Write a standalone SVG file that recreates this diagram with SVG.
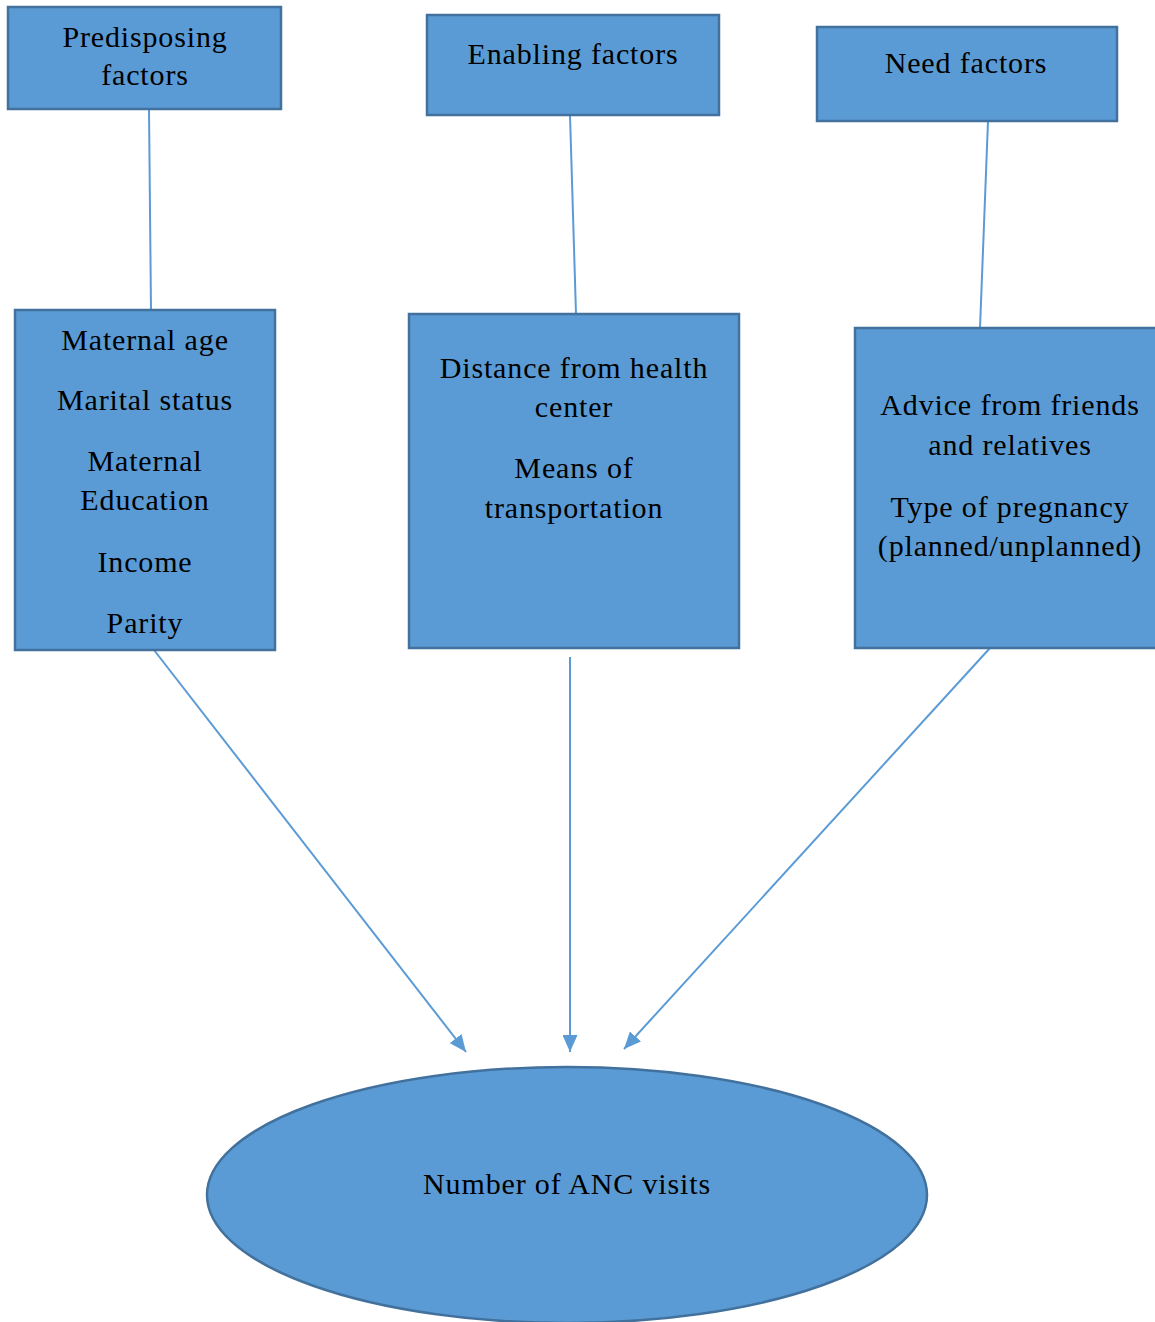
<svg xmlns="http://www.w3.org/2000/svg" width="1155" height="1322" viewBox="0 0 1155 1322">
<style>
.box{fill:#5B9BD5;stroke:#41719C;stroke-width:2.5}
.t{font-family:"Liberation Serif","Times New Roman",serif;font-size:30px;letter-spacing:0.85px;fill:#000;text-anchor:middle}
.c{stroke:#5B9BD5;stroke-width:2;fill:none}
</style>
<defs>
<marker id="ah" viewBox="0 0 17 15" refX="17" refY="7.5" markerWidth="17" markerHeight="15" markerUnits="userSpaceOnUse" orient="auto">
<path d="M0,0 L17,7.5 L0,15 z" fill="#5B9BD5"/>
</marker>
</defs>
<rect width="1155" height="1322" fill="#fff"/>
<g id="connectors">
<line class="c" x1="149" y1="109" x2="151" y2="310"/>
<line class="c" x1="570" y1="115" x2="576" y2="314"/>
<line class="c" x1="988" y1="121" x2="980" y2="328"/>
<line class="c" x1="154" y1="650" x2="466" y2="1052" marker-end="url(#ah)"/>
<line class="c" x1="570" y1="657" x2="570" y2="1052" marker-end="url(#ah)"/>
<line class="c" x1="990" y1="648" x2="624" y2="1049" marker-end="url(#ah)"/>
</g>
<g id="predisposing">
<rect class="box" x="8" y="7" width="273" height="102"/>
<text class="t" x="145" y="47">Predisposing</text>
<text class="t" x="145" y="85">factors</text>
</g>
<g id="enabling">
<rect class="box" x="427" y="15" width="292" height="100"/>
<text class="t" x="573" y="64">Enabling factors</text>
</g>
<g id="need">
<rect class="box" x="817" y="27" width="300" height="94"/>
<text class="t" x="966" y="73">Need factors</text>
</g>
<g id="predisposing-items">
<rect class="box" x="15" y="310" width="260" height="340"/>
<text class="t" x="145" y="350">Maternal age</text>
<text class="t" x="145" y="410">Marital status</text>
<text class="t" x="145" y="471">Maternal</text>
<text class="t" x="145" y="510">Education</text>
<text class="t" x="145" y="572">Income</text>
<text class="t" x="145" y="633">Parity</text>
</g>
<g id="enabling-items">
<rect class="box" x="409" y="314" width="330" height="334"/>
<text class="t" x="574" y="378">Distance from health</text>
<text class="t" x="574" y="417">center</text>
<text class="t" x="574" y="478">Means of</text>
<text class="t" x="574" y="518">transportation</text>
</g>
<g id="need-items">
<rect class="box" x="855" y="328" width="305" height="320"/>
<text class="t" x="1010" y="415">Advice from friends</text>
<text class="t" x="1010" y="455">and relatives</text>
<text class="t" x="1010" y="517">Type of pregnancy</text>
<text class="t" x="1010" y="556">(planned/unplanned)</text>
</g>
<g id="outcome">
<ellipse class="box" cx="567" cy="1195" rx="360" ry="128"/>
<text class="t" x="567" y="1194">Number of ANC visits</text>
</g>
</svg>
